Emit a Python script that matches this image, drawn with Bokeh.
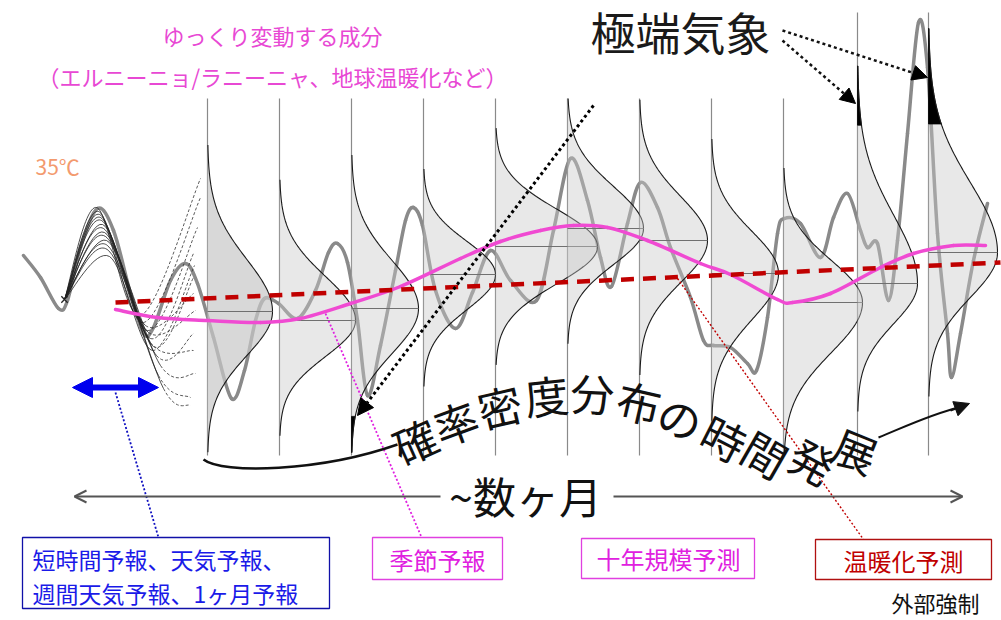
import numpy as np
from bokeh.plotting import figure
from bokeh.models import Arrow, NormalHead, OpenHead, Range1d, ColumnDataSource
from bokeh.core.properties import value
from bokeh.embed import file_html
from bokeh.resources import INLINE

JP = value("Noto Sans CJK JP")

# ---------------- data (pixel units) ----------------
dist_x = [207, 279, 351, 423, 495, 567, 639, 711, 783, 857, 928]
dist_top = [98, 98, 98, 98, 98, 98, 98, 98, 98, 12, 12]
dist_mean = [311, 320, 308, 274, 246, 228, 240, 273, 302, 283, 252]
dist_amp = [65, 76, 67, 72, 102, 76, 68, 67, 79, 60, 69]
dist_sig_up = [52, 44, 48, 33, 37, 42, 44, 42, 42, 68, 70]
dist_sig_dn = [44, 36, 45, 35, 37, 36, 42, 46, 50, 40, 45]
extreme_idx = [2, 9, 10]
extreme_from = [415, 0, 0]
extreme_to = [460, 125, 125]

gray_x = [23, 40, 58, 67, 80, 97, 113, 130, 143, 153, 170, 185, 197, 213, 231, 244, 255, 264, 278, 297,
          315, 328, 337, 347, 357, 367, 380, 395, 405, 413, 422, 435, 455, 472, 490, 510, 536, 553, 570,
          587, 600, 611, 627, 640, 657, 670, 690, 703, 713, 730, 747, 756, 767, 777, 784, 800, 820, 833,
          847, 860, 867, 877, 888, 897, 907, 918, 927, 937, 947, 951, 960, 973, 987]
gray_y = [255, 277, 308, 300, 247, 208, 230, 293, 333, 327, 280, 263, 283, 337, 398, 370, 320, 298, 303, 318,
          290, 252, 243, 262, 320, 395, 345, 270, 220, 207, 225, 290, 328, 292, 250, 280, 300, 230, 158,
          200, 257, 286, 223, 182, 207, 247, 297, 340, 345, 347, 363, 370, 317, 233, 218, 223, 257, 217,
          193, 230, 247, 243, 300, 240, 133, 22, 67, 233, 333, 377, 333, 260, 203]

mag_x = [115, 157, 207, 260, 300, 350, 400, 460, 500, 540, 573, 607, 647, 700, 730, 777, 792, 830, 880, 913, 953, 985]
mag_y = [309, 317, 320, 322, 318, 303, 286, 258, 241, 230, 225, 227, 240, 263, 274, 299, 302, 293, 267, 253, 245, 245]

trend_x = [115, 1000]
trend_y = [302, 262]

ens_start = (64, 299)
ens_peak_x = [96, 98, 99, 100, 101, 102, 103, 104, 105, 106, 107, 108, 109]
ens_peak_y = [207, 211, 214, 217, 220, 224, 228, 232, 236, 240, 245, 250, 256]
ens_trough_x = [140, 143, 147, 150, 153, 145, 156, 150, 160, 148, 158, 163, 152]
ens_trough_y = [315, 322, 330, 338, 346, 325, 355, 342, 365, 332, 375, 388, 350]
ens_end_x = [200, 200, 197, 193, 193, 193, 193, 193, 195, 195, 190, 190, 194]
ens_end_y = [178, 197, 227, 253, 277, 293, 333, 350, 373, 310, 397, 405, 265]

arc_chars = list("確率密度分布の時間発展")
arc_x = [414, 455, 499, 546, 592, 639, 680, 724, 765, 812, 855]
arc_y = [440, 421, 405, 394, 392, 401, 417, 437, 453, 460, 449]
arc_deg = [24, 20, 13, 6, -3, -13, -20, -27, -30, -28, -22]

box_labels = ["季節予報", "十年規模予測", "温暖化予測"]


def cr_bezier(xs, ys):
    P = np.column_stack([xs, ys]).astype(float)
    P = np.vstack([P[0], P, P[-1]])
    d = dict(x0=[], y0=[], x1=[], y1=[], cx0=[], cy0=[], cx1=[], cy1=[])
    for i in range(1, len(P) - 2):
        p0, p1, p2, p3 = P[i - 1], P[i], P[i + 1], P[i + 2]
        c1 = p1 + (p2 - p0) / 6.0
        c2 = p2 - (p3 - p1) / 6.0
        d["x0"].append(p1[0]); d["y0"].append(p1[1])
        d["x1"].append(p2[0]); d["y1"].append(p2[1])
        d["cx0"].append(c1[0]); d["cy0"].append(c1[1])
        d["cx1"].append(c2[0]); d["cy1"].append(c2[1])
    return d


def sub(d, idx):
    return {k: [v[i] for i in idx] for k, v in d.items()}


def bez(p, d, **kw):
    p.bezier(x0="x0", y0="y0", x1="x1", y1="y1", cx0="cx0", cy0="cy0", cx1="cx1", cy1="cy1",
             source=ColumnDataSource(d), **kw)


p = figure(width=1001, height=620, x_range=Range1d(0, 1001), y_range=Range1d(620, 0),
           x_axis_type=None, y_axis_type=None, output_backend="svg", toolbar_location=None,
           min_border=0)
p.grid.visible = False
p.outline_line_color = None

# vertical time lines
p.segment(x0=dist_x, y0=dist_top, x1=dist_x, y1=[455] * len(dist_x), line_color="#8a8a8a", line_width=1.2)

# observed-like thick gray series
bez(p, cr_bezier(gray_x, gray_y), line_color="#8a8a8a", line_width=3.5, line_cap="round")

# distributions
for i in range(len(dist_x)):
    x0, mu, A = dist_x[i], dist_mean[i], dist_amp[i]
    su, sd = dist_sig_up[i], dist_sig_dn[i]
    y_lo = max(dist_top[i], mu - 3.2 * su)
    y_hi = min(455, mu + 3.2 * sd)
    yy = np.linspace(y_lo, y_hi, 240)
    s = np.where(yy < mu, su, sd)
    xx = x0 + A * np.exp(-0.5 * ((yy - mu) / s) ** 2)
    p.patch(np.r_[x0, xx, x0], np.r_[y_lo, yy, y_hi], fill_color="#c8c8c8",
            fill_alpha=0.7 if i == 0 else 0.42, line_color=None)
    if i in extreme_idx:
        k = extreme_idx.index(i)
        m = (yy >= extreme_from[k]) & (yy <= extreme_to[k])
        ym, xm = yy[m], xx[m]
        p.patch(np.r_[x0, xm, x0], np.r_[ym[0], ym, ym[-1]], fill_color="black", line_color="black",
                line_width=0.8)
    p.line(xx, yy, line_color="#1a1a1a", line_width=1.1)
    p.line([x0, x0 + A], [mu, mu], line_color="#707070", line_width=1.1)

# ensemble forecasts
for j in range(len(ens_peak_x)):
    d = cr_bezier([ens_start[0], ens_peak_x[j], ens_trough_x[j], ens_end_x[j]],
                  [ens_start[1], ens_peak_y[j], ens_trough_y[j], ens_end_y[j]])
    bez(p, sub(d, [0, 1]), line_color="#222222", line_width=1.0, line_alpha=0.8)
    bez(p, sub(d, [2]), line_color="#333333", line_width=1.0, line_alpha=0.8, line_dash="3 2")
p.scatter([ens_start[0]], [ens_start[1]], marker="x", size=9, line_color="#222", line_width=1.3)

# slow component and trend
bez(p, cr_bezier(mag_x, mag_y), line_color="#f04ad2", line_width=3.5, line_cap="round")
p.line(trend_x, trend_y, line_color="#c00000", line_width=4.5, line_dash="13 9")

# dotted leader lines
p.line([115, 158], [392, 537], line_color="#1010c0", line_width=1.8, line_dash="2 2")
p.line([325, 422], [313, 539], line_color="#e020e0", line_width=1.8, line_dash="2 2")
p.line([677, 863], [278, 539], line_color="#c00000", line_width=1.4, line_dash="2 2")

# extreme-event arrows
def head(c, s):
    return NormalHead(size=s, fill_color=c, line_color=c)

p.add_layout(Arrow(end=head("black", 16), x_start=593, y_start=105, x_end=357, y_end=415,
                   line_color="black", line_width=3, line_dash="3 3"))
p.add_layout(Arrow(end=head("black", 15), x_start=782, y_start=30, x_end=927, y_end=77,
                   line_color="#111", line_width=2.5, line_dash="3 3"))
p.add_layout(Arrow(end=head("black", 15), x_start=782, y_start=40, x_end=855, y_end=103,
                   line_color="#111", line_width=2.5, line_dash="3 3"))

# blue double arrow
p.add_layout(Arrow(start=head("#0000ee", 20), end=head("#0000ee", 20), x_start=72, y_start=387,
                   x_end=158, y_end=387, line_color="#0000ee", line_width=6))

# curve under arc text and arrow
p.bezier(x0=[203], y0=[459], x1=[397], y1=[444], cx0=[222], cy0=[474], cx1=[320], cy1=[471],
         line_color="#111", line_width=2.5)
p.bezier(x0=[878], y0=[437], x1=[958], y1=[407], cx0=[905], cy0=[426], cx1=[930], cy1=[414],
         line_color="#111", line_width=2)
p.add_layout(Arrow(end=head("#111", 15), x_start=950, y_start=410, x_end=969, y_end=403,
                   line_color="#111", line_width=2))

# ~数ヶ月 double arrow
p.add_layout(Arrow(end=OpenHead(size=12, line_color="#555", line_width=2), x_start=440, y_start=496,
                   x_end=74, y_end=496, line_color="#555", line_width=2))
p.add_layout(Arrow(end=OpenHead(size=12, line_color="#555", line_width=2), x_start=613, y_start=496,
                   x_end=962, y_end=496, line_color="#555", line_width=2))

# boxes
p.quad(left=[22], right=[329], top=[537], bottom=[608], fill_color="white", line_color="#1010a8", line_width=1.3)
p.quad(left=[372, 581, 815], right=[502, 754, 991], top=[537, 538, 539], bottom=[579, 578, 579],
       fill_color="white", line_color=["#e040e0", "#e040e0", "#b01010"], line_width=1.3)

# texts
p.text(x=[272, 272], y=[34, 75], text=["ゆっくり変動する成分", "（エルニーニョ/ラニーニャ、地球温暖化など）"],
       text_font=JP, text_font_size="22px", text_color="#e848d4", text_align="center", text_baseline="middle")
p.text(x=[35], y=[165], text=["35℃"], text_font=JP, text_font_size="21px", text_color="#f39a6e",
       text_align="left", text_baseline="middle")
p.text(x=[680], y=[31], text=["極端気象"], text_font=JP, text_font_size="45px", text_color="#1a1a1a",
       text_align="center", text_baseline="middle")
p.text(x=arc_x, y=arc_y, text=arc_chars, angle=[np.deg2rad(a) for a in arc_deg], text_font=JP,
       text_font_size="44px", text_color="#111", text_align="center", text_baseline="middle")
p.text(x=[525], y=[494], text=["~数ヶ月"], text_font=JP, text_font_size="43px", text_color="#111",
       text_align="center", text_baseline="middle")
p.text(x=[32, 32], y=[558, 592], text=["短時間予報、天気予報、", "週間天気予報、1ヶ月予報"], text_font=JP,
       text_font_size="23px", text_color="#1a1ae8", text_align="left", text_baseline="middle")
p.text(x=[437, 668, 903], y=[559, 558, 560], text=box_labels, text_font=JP, text_font_size="24px",
       text_color=["#e020e0", "#e020e0", "#c00000"], text_align="center", text_baseline="middle")
p.text(x=[935], y=[601], text=["外部強制"], text_font=JP, text_font_size="22px", text_color="#111",
       text_align="center", text_baseline="middle")

open("out.html", "w").write(file_html(p, INLINE))
